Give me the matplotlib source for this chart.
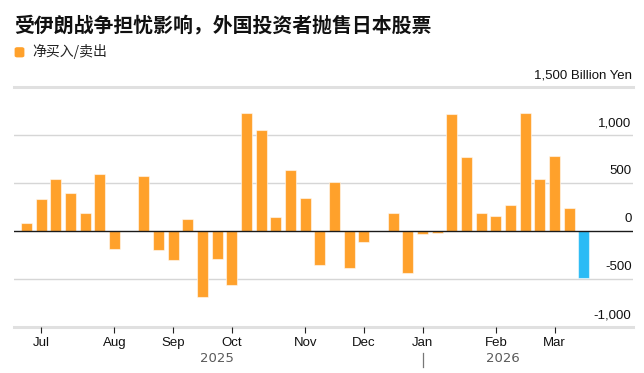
import numpy as np
import pandas as pd
import matplotlib
import matplotlib.pyplot as plt
import matplotlib.transforms as mtransforms
from matplotlib.patches import FancyBboxPatch

# weekly net purchases of Japanese stocks by foreign investors (billion yen)
weeks = pd.date_range('2025-06-26', periods=39, freq='7D')
net_flow = [85, 336, 541, 399, 187, 600, -187, 5, 573, -198,
            -302, 131, -688, -292, -556, 1235, 1055, 152, 639, 347,
            -351, 514, -379, -115, 5, 187, -434, -25, -15, 1219,
            774, 191, 159, 274, 1229, 541, 788, 240, -486]
yticks = [-1000, -500, 0, 500, 1000, 1500]
ytick_labels = ['-1,000', '-500', '0', '500', '1,000', '1,500 Billion Yen']

title = '受伊朗战争担忧影响，外国投资者抛售日本股票'
legend_label = '净买入/卖出'

orange = '#FFA12B'
blue = '#2BBBF5'
cjk = ['Noto Sans CJK SC', 'DejaVu Sans']
latin = ['Liberation Sans', 'DejaVu Sans']

x = np.arange(len(weeks))
colors = [orange] * len(net_flow)
colors[-1] = blue  # latest week highlighted

fig = plt.figure(figsize=(6.44, 3.73), dpi=100)
ax = fig.add_axes([14 / 644, 45.7 / 373, 619 / 644, 240 / 373])

ax.bar(x, net_flow, width=0.75, color=colors, edgecolor=(1, 1, 1, 0.55),
       linewidth=0.8, zorder=2)

ax.set_xlim(-0.85, 41.35)
ax.set_ylim(-1000, 1500)

# gridlines
for v in yticks:
    if v == 0:
        ax.axhline(v, color='#1a1a1a', lw=1.0, zorder=3)
    elif v in (-1000, 1500):
        ax.axhline(v, color='#e0e0e0', lw=2.2, zorder=1, clip_on=False)
    else:
        ax.axhline(v, color='#d6d6d6', lw=1.0, zorder=1)

# y labels on the right, above the gridlines
for v, lab in zip(yticks, ytick_labels):
    ax.annotate(lab, xy=(1, v), xycoords=('axes fraction', 'data'),
                xytext=(-1, 8.8), textcoords='offset points',
                ha='right', va='center', fontsize=9.5, family=latin,
                color='#111111')

ax.set_yticks([])
for s in ax.spines.values():
    s.set_visible(False)

# month ticks at the first week of each month
month_pos = [i for i in range(1, len(weeks)) if weeks[i].month != weeks[i - 1].month]
month_labels = [weeks[i].strftime('%b') for i in month_pos]
ax.set_xticks(month_pos)
ax.set_xticklabels(month_labels, fontsize=9.5, family=latin, color='#111111')
ax.tick_params(axis='x', length=4.3, width=0.8, color='#222222', pad=2.5)

# year labels centred under each year's weeks
trans = mtransforms.blended_transform_factory(ax.transData, ax.transAxes)
for yr in (2025, 2026):
    idx = [i for i, w in enumerate(weeks) if w.year == yr]
    ax.text((idx[0] + idx[-1]) / 2, -0.128, str(yr), transform=trans,
            ha='center', va='center', fontsize=9.5, family='DejaVu Sans',
            color='#5a5a5a')
jan = [i for i in month_pos if weeks[i].month == 1][0]
ax.plot([jan, jan], [-0.107, -0.165], transform=trans, color='#777777',
        lw=0.9, clip_on=False)

# title and legend
fig.text(14 / 644, 1 - 24.5 / 373, title, fontsize=14.3, fontweight='bold',
         family=cjk, color='#111111', ha='left', va='center')
fig.patches.append(FancyBboxPatch((15.3 / 644, 1 - 56.7 / 373), 8.4 / 644, 8.8 / 373,
                                  boxstyle='round,pad=0,rounding_size=0.003',
                                  transform=fig.transFigure, color=orange))
fig.text(32.5 / 644, 1 - 51.7 / 373, legend_label, fontsize=10,
         family=cjk, color='#222222', ha='left', va='center')

fig.savefig('out.png', dpi=100)
